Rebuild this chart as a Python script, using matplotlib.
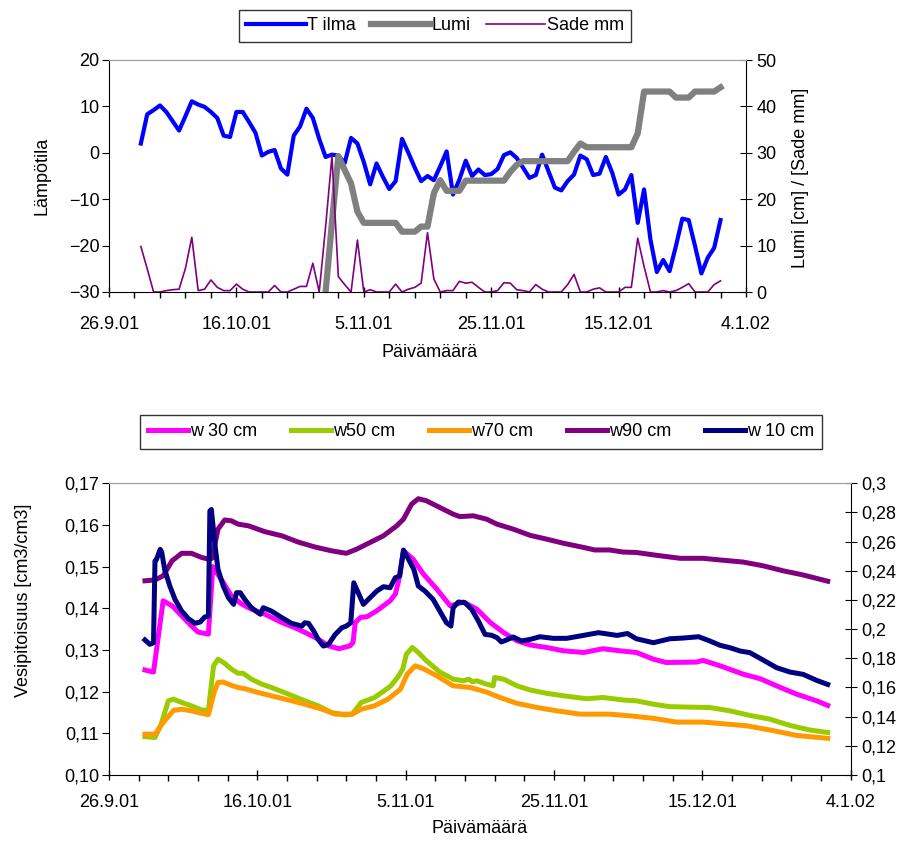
import numpy as np
import matplotlib
matplotlib.use("Agg")
import matplotlib.pyplot as plt
import matplotlib.dates as mdates
from matplotlib.ticker import FixedLocator, FuncFormatter
from datetime import datetime

plt.rcParams['font.family'] = ['Liberation Sans', 'DejaVu Sans']
plt.rcParams['font.size'] = 13

# --- data: day offsets from 26.9.2001 ---
alku = datetime(2001, 9, 26)

# top chart, daily values 1.10.01 - 31.12.01
paiva = list(range(5, 97))
t_ilma = [2.0, 8.3, 9.2, 10.2, 8.8, 6.8, 4.8, 7.9, 11.1, 10.4, 9.9, 8.8, 7.5, 3.7, 3.4,
          8.8, 8.8, 6.6, 4.3, -0.6, 0.2, 0.6, -3.4, -4.7, 3.7, 5.7, 9.5, 7.5, 3.0, -0.9,
          -0.4, -0.6, -2.2, 3.2, 2.0, -2.0, -6.8, -2.3, -5.2, -7.8, -6.1, 3.0, 0.0, -3.2,
          -6.1, -5.0, -5.9, -2.9, 0.3, -9.0, -5.8, -1.7, -5.0, -3.6, -4.8, -4.6, -3.5,
          -0.5, 0.1, -1.1, -3.2, -5.4, -4.8, -0.4, -4.0, -7.5, -8.1, -6.1, -4.7, -0.6,
          -1.4, -4.8, -4.5, -0.9, -4.3, -9.0, -7.9, -4.8, -15.1, -7.9, -18.7, -25.7,
          -23.1, -25.5, -20.1, -14.2, -14.5, -20.1, -26.0, -22.6, -20.5, -14.5]
lumi = [np.nan] * 29 + [0, 15, 29.3, 26.3, 23.4, 17.3, 14.9, 14.9, 14.9, 14.9, 14.9, 14.9,
        13.0, 13.0, 13.0, 14.1, 14.1, 21.3, 24.1, 21.8, 21.8, 21.8, 24.0, 24.0, 24.0,
        24.0, 24.0, 24.0, 24.0, 25.9, 27.4, 28.2, 28.2, 28.2, 28.2, 28.2, 28.2, 28.2,
        28.2, 30.2, 32.0, 31.2, 31.2, 31.2, 31.2, 31.2, 31.2, 31.2, 31.2, 34.2, 43.2,
        43.2, 43.2, 43.2, 43.2, 41.9, 41.9, 41.9, 43.2, 43.2, 43.2, 43.2, 44.1]
sade = [9.8, 5.0, 0, 0, 0.3, 0.5, 0.6, 5.1, 11.8, 0.3, 0.6, 2.6, 1.0, 0.3, 0.3, 1.7, 0.6,
        0, 0, 0, 0, 1.4, 0, 0, 0.6, 1.2, 1.2, 6.2, 0, 14.0, 29.3, 3.3, 1.6, 0, 11.2, 0,
        0.5, 0, 0, 0, 1.7, 0, 0.6, 1.0, 1.9, 12.8, 2.8, 0, 0.3, 0.3, 2.3, 1.9, 2.1, 1.0,
        0, 0, 0.3, 2.0, 1.9, 0.5, 0.3, 0, 1.6, 0.6, 0, 0, 0, 1.6, 3.8, 0, 0, 0.6, 0.9,
        0, 0, 0, 1.0, 1.0, 11.6, 5.5, 0, 0, 0.3, 0, 0.3, 1.0, 1.8, 0, 0, 0, 1.6, 2.4]

# bottom chart, soil moisture
w90_pv = [4.85, 6.2, 7.3, 8.5, 9.8, 11.1, 12.5, 13.4, 13.9, 14.7, 15.6, 16.5, 17.4, 18.8,
          21.0, 23.3, 25.5, 27.8, 30.0, 32.0, 33.4, 35.2, 37.0, 38.8, 39.7, 40.8, 41.7,
          42.8, 44.6, 46.4, 47.3, 49.1, 50.9, 52.3, 54.5, 56.8, 59.0, 61.3, 64.0, 65.5,
          67.5, 69.3, 71.1, 73.9, 77.0, 80.1, 82.4, 85.5, 88.2, 90.9, 93.6, 96.9]
w90 = [0.1466, 0.1468, 0.1478, 0.1514, 0.1532, 0.1532, 0.1522, 0.1518, 0.1520, 0.1590,
       0.1612, 0.1610, 0.1602, 0.1598, 0.1584, 0.1574, 0.1559, 0.1547, 0.1538, 0.1532,
       0.1542, 0.1558, 0.1574, 0.1598, 0.1614, 0.1650, 0.1663, 0.1658, 0.1642, 0.1626,
       0.1620, 0.1622, 0.1614, 0.1602, 0.1590, 0.1575, 0.1566, 0.1556, 0.1546, 0.1540,
       0.1540, 0.1535, 0.1534, 0.1527, 0.1520, 0.1520, 0.1516, 0.1511, 0.1502, 0.1490,
       0.1480, 0.1465]
w30_pv = [4.85, 6.0, 7.3, 8.5, 9.8, 11.1, 12.0, 13.4, 14.0, 14.5, 15.4, 16.5, 17.9, 19.2,
          21.0, 23.3, 25.5, 26.9, 28.2, 29.6, 31.0, 32.5, 32.9, 33.2, 33.9, 34.8, 36.1,
          37.9, 38.6, 39.0, 39.7, 41.0, 42.4, 44.2, 46.0, 47.8, 49.6, 51.4, 53.2, 55.0,
          56.8, 59.0, 61.3, 64.0, 66.6, 68.9, 71.1, 73.4, 75.1, 79.2, 80.1, 82.4, 85.5,
          87.8, 90.0, 92.7, 95.4, 96.9]
w30 = [0.1252, 0.1247, 0.1418, 0.1406, 0.1382, 0.1358, 0.1343, 0.1338, 0.1500, 0.1486,
       0.1462, 0.1430, 0.1410, 0.1398, 0.1386, 0.1366, 0.1350, 0.1338, 0.1326, 0.1310,
       0.1303, 0.1310, 0.1318, 0.1366, 0.1378, 0.1380, 0.1394, 0.1418, 0.1434, 0.1462,
       0.1538, 0.1518, 0.1482, 0.1446, 0.1406, 0.1415, 0.1398, 0.1366, 0.1342, 0.1322,
       0.1312, 0.1306, 0.1298, 0.1294, 0.1303, 0.1298, 0.1294, 0.1278, 0.1270, 0.1271,
       0.1275, 0.1262, 0.1242, 0.1231, 0.1214, 0.1194, 0.1178, 0.1167]
w50_pv = [4.85, 6.2, 7.0, 8.0, 8.7, 9.8, 11.1, 12.5, 13.4, 14.1, 14.7, 15.6, 16.5, 17.4,
          18.1, 19.2, 20.6, 21.9, 24.2, 26.4, 28.2, 30.0, 31.8, 32.8, 34.0, 35.8, 37.1,
          38.0, 38.9, 39.6, 40.1, 40.9, 41.7, 42.8, 44.6, 46.4, 47.8, 48.5, 49.0, 49.6,
          50.9, 51.8, 52.0, 53.2, 55.0, 56.8, 59.0, 61.3, 64.4, 66.6, 69.3, 71.1, 73.4,
          75.6, 77.9, 81.0, 83.7, 86.4, 89.1, 91.8, 94.5, 96.9]
w50 = [0.1092, 0.1090, 0.1120, 0.1178, 0.1182, 0.1174, 0.1166, 0.1156, 0.1155, 0.1262,
       0.1278, 0.1268, 0.1254, 0.1244, 0.1244, 0.1230, 0.1218, 0.1210, 0.1194, 0.1178,
       0.1166, 0.1150, 0.1144, 0.1146, 0.1174, 0.1186, 0.1202, 0.1214, 0.1234, 0.1254,
       0.1290, 0.1306, 0.1294, 0.1274, 0.1247, 0.1230, 0.1226, 0.1230, 0.1224, 0.1226,
       0.1218, 0.1214, 0.1234, 0.1230, 0.1214, 0.1204, 0.1196, 0.1190, 0.1183, 0.1186,
       0.1180, 0.1178, 0.1170, 0.1164, 0.1163, 0.1162, 0.1154, 0.1143, 0.1134, 0.1119,
       0.1108, 0.1102]
w70_pv = [4.85, 6.2, 7.3, 8.7, 9.8, 11.1, 12.5, 13.4, 14.2, 14.7, 15.4, 16.5, 17.4, 18.3,
          20.1, 21.9, 24.2, 26.4, 28.7, 30.5, 32.8, 34.0, 35.8, 37.6, 39.3, 40.2, 41.3,
          42.4, 44.2, 46.4, 48.7, 50.9, 52.7, 55.0, 57.7, 60.4, 63.5, 67.5, 70.2, 73.4,
          76.5, 80.1, 82.8, 86.0, 89.1, 92.7, 96.9]
w70 = [0.1098, 0.1098, 0.1126, 0.1155, 0.1158, 0.1154, 0.1148, 0.1145, 0.1200, 0.1222,
       0.1223, 0.1215, 0.1210, 0.1207, 0.1198, 0.1190, 0.1180, 0.1170, 0.1158, 0.1146,
       0.1146, 0.1158, 0.1166, 0.1182, 0.1206, 0.1242, 0.1262, 0.1255, 0.1238, 0.1214,
       0.1210, 0.1199, 0.1186, 0.1172, 0.1162, 0.1154, 0.1146, 0.1146, 0.1142, 0.1136,
       0.1127, 0.1127, 0.1123, 0.1118, 0.1108, 0.1095, 0.1088]
w10_pv = [4.85, 5.5, 6.0, 6.2, 6.4, 6.9, 7.1, 7.5, 8.2, 8.9, 9.8, 10.7, 11.6, 12.3, 12.9,
          13.4, 13.6, 13.8, 14.3, 14.7, 15.4, 16.1, 16.8, 17.2, 17.7, 18.3, 19.2, 20.4,
          20.8, 21.9, 23.3, 24.6, 26.0, 26.4, 26.9, 27.6, 28.2, 28.9, 29.6, 30.5, 31.4,
          32.0, 32.6, 33.0, 33.6, 34.3, 35.2, 36.1, 37.0, 37.9, 38.6, 39.2, 39.7, 40.4,
          41.1, 41.7, 42.6, 43.7, 44.6, 45.5, 46.1, 46.4, 47.1, 48.0, 48.9, 49.8, 50.7,
          51.6, 52.3, 52.9, 53.6, 54.5, 55.6, 56.8, 58.1, 59.9, 61.7, 63.5, 66.0, 68.5,
          69.9, 71.1, 73.4, 75.6, 77.4, 79.5, 81.0, 82.4, 83.7, 85.1, 86.4, 88.2, 90.0,
          91.8, 93.6, 95.4, 96.9]
w10 = [0.1926, 0.1896, 0.1907, 0.2467, 0.2478, 0.2547, 0.2530, 0.2410, 0.2296, 0.2204,
       0.2124, 0.2072, 0.2040, 0.2049, 0.2083, 0.2090, 0.2810, 0.2821, 0.2570, 0.2410,
       0.2296, 0.2216, 0.2170, 0.2250, 0.2250, 0.2204, 0.2147, 0.2102, 0.2147, 0.2124,
       0.2079, 0.2040, 0.2021, 0.2044, 0.2040, 0.1987, 0.1930, 0.1884, 0.1896, 0.1964,
       0.2010, 0.2021, 0.2044, 0.2318, 0.2250, 0.2170, 0.2216, 0.2261, 0.2291, 0.2284,
       0.2353, 0.2364, 0.2542, 0.2478, 0.2410, 0.2296, 0.2261, 0.2204, 0.2124, 0.2044,
       0.2021, 0.2147, 0.2186, 0.2181, 0.2136, 0.2056, 0.1964, 0.1958, 0.1942, 0.1912,
       0.1926, 0.1946, 0.1919, 0.1930, 0.1948, 0.1937, 0.1937, 0.1953, 0.1976, 0.1957,
       0.1970, 0.1934, 0.1907, 0.1934, 0.1939, 0.1948, 0.1919, 0.1889, 0.1873, 0.1850,
       0.1839, 0.1788, 0.1736, 0.1706, 0.1690, 0.1649, 0.1621]

t0 = mdates.date2num(alku)


def pv(lista):
    return t0 + np.array(lista, dtype=float)


def pvm_muoto(x, pos):
    d = mdates.num2date(x)
    return f"{d.day}.{d.month}.{d.strftime('%y')}"


def pilkku2(v, pos):
    return f"{v:.2f}".replace('.', ',')


def pilkku(v, pos):
    s = f"{v:.2f}".rstrip('0')
    return s.replace('.', ',')


def x_akseli(ax, pad):
    ax.set_xlim(t0, t0 + 100)
    ax.xaxis.set_major_locator(FixedLocator([t0 + i for i in range(0, 101, 20)]))
    ax.xaxis.set_minor_locator(FixedLocator([t0 + i for i in range(0, 101, 4)]))
    ax.xaxis.set_major_formatter(FuncFormatter(pvm_muoto))
    ax.tick_params(axis='x', which='major', direction='inout', length=7, width=1, pad=pad)
    ax.tick_params(axis='x', which='minor', direction='out', length=4, width=1)


fig = plt.figure(figsize=(9.14, 8.41), dpi=100)

# --- top chart ---
ax1 = fig.add_axes([109/914, 1 - 292/841, 637/914, 232/841])
ax1.plot(pv(paiva), t_ilma, color='#0000FF', lw=3, label='T ilma')
ax1.set_ylim(-30, 20)
ax1.set_yticks(range(-30, 21, 10))
x_akseli(ax1, 14)
ax1.tick_params(axis='y', direction='out', length=5, pad=2)
ax1.spines['top'].set_color('#A0A0A0')
ax1.spines['right'].set_visible(False)
ax1.set_ylabel('Lämpötila')
ax1.yaxis.set_label_coords(-0.105, 0.5)
ax1.yaxis.label.set_va('center')
ax1.set_xlabel('Päivämäärä')
ax1.xaxis.set_label_coords(0.504, -0.262)
ax1.xaxis.label.set_va('center')

ax2 = ax1.twinx()
ax2.plot(pv(paiva), lumi, color='#808080', lw=4.5, label='Lumi')
ax2.plot(pv(paiva), sade, color='#800080', lw=1.2, label='Sade mm')
ax2.set_ylim(0, 50)
ax2.set_yticks(range(0, 51, 10))
ax2.tick_params(axis='y', direction='inout', length=9, pad=3)
ax2.spines['top'].set_color('#A0A0A0')
ax2.spines['left'].set_visible(False)
ax2.spines['bottom'].set_visible(False)
ax2.set_ylabel('Lumi [cm] / [Sade mm]')
ax2.yaxis.set_label_coords(1.086, 0.49)
ax2.yaxis.label.set_va('center')

h1, l1 = ax1.get_legend_handles_labels()
h2, l2 = ax2.get_legend_handles_labels()
fig.legend(h1 + h2, l1 + l2, loc='center', bbox_to_anchor=(435/914, 1 - 26/841), ncol=3,
           frameon=True, fancybox=False, edgecolor='black', handlelength=3.3,
           handletextpad=0.1, columnspacing=0.8, borderpad=0.4)

# --- bottom chart ---
ax3 = fig.add_axes([109/914, 1 - 775/841, 741.7/914, 291.7/841])
ax3.plot(pv(w30_pv), w30, color='#FF00FF', lw=3.6, label='w 30 cm')
ax3.plot(pv(w50_pv), w50, color='#99CC00', lw=3.6, label='w50 cm')
ax3.plot(pv(w70_pv), w70, color='#FF9900', lw=3.6, label='w70 cm')
ax3.plot(pv(w90_pv), w90, color='#800080', lw=3.6, label='w90 cm')
ax3.set_ylim(0.10, 0.17)
ax3.set_yticks(np.arange(0.10, 0.1701, 0.01))
ax3.yaxis.set_major_formatter(FuncFormatter(pilkku2))
x_akseli(ax3, 10)
ax3.tick_params(axis='y', direction='out', length=5, pad=2)
ax3.spines['top'].set_color('#A0A0A0')
ax3.spines['right'].set_visible(False)
ax3.set_ylabel('Vesipitoisuus [cm3/cm3]')
ax3.yaxis.set_label_coords(-0.115, 0.6)
ax3.yaxis.label.set_va('center')
ax3.set_xlabel('Päivämäärä')
ax3.xaxis.set_label_coords(0.5, -0.184)
ax3.xaxis.label.set_va('center')

ax4 = ax3.twinx()
ax4.plot(pv(w10_pv), w10, color='#000080', lw=3.6, label='w 10 cm')
ax4.set_ylim(0.1, 0.3)
ax4.set_yticks(np.arange(0.10, 0.3001, 0.02))
ax4.yaxis.set_major_formatter(FuncFormatter(pilkku))
ax4.tick_params(axis='y', direction='inout', length=9, pad=3)
ax4.spines['top'].set_color('#A0A0A0')
ax4.spines['left'].set_visible(False)
ax4.spines['bottom'].set_visible(False)

h3, l3 = ax3.get_legend_handles_labels()
h4, l4 = ax4.get_legend_handles_labels()
fig.legend(h3 + h4, l3 + l4, loc='center', bbox_to_anchor=(481/914, 1 - 432/841), ncol=5,
           frameon=True, fancybox=False, edgecolor='black', handlelength=2.2,
           handletextpad=0.1, columnspacing=1.9, borderpad=0.45)

fig.savefig('out.png', dpi=100)
